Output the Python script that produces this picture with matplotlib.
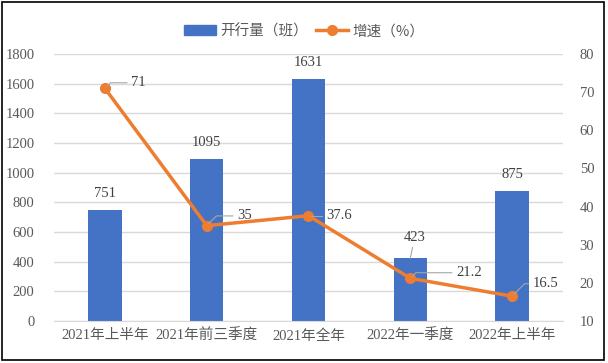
import numpy as np
import matplotlib.pyplot as plt
import matplotlib.patches as mpatches
from matplotlib.lines import Line2D

plt.rcParams['font.family'] = ['Liberation Serif', 'Noto Sans CJK SC']

categories = ["2021年上半年", "2021年前三季度", "2021年全年", "2022年一季度", "2022年上半年"]
trains = [751, 1095, 1631, 423, 875]
growth = [71, 35, 37.6, 21.2, 16.5]

bar_color = "#4472C4"
line_color = "#ED7D31"
txt = "#595959"

fig = plt.figure(figsize=(6.08, 3.63), dpi=100)
ax = fig.add_axes([54 / 608, 42 / 363, 509 / 608, 267 / 363])
ax2 = ax.twinx()

x = np.arange(len(categories))
ax.bar(x, trains, width=0.33, color=bar_color, zorder=2)
ax.set_ylim(0, 1800)
ax.set_yticks(range(0, 1801, 200))
ax.set_xlim(-0.5, len(categories) - 0.5)
ax.set_xticks(x)
ax.set_xticklabels(categories, family=['Liberation Serif', 'Noto Sans CJK SC'])
ax.grid(axis='y', color='#D9D9D9', linewidth=1, zorder=0)
ax.set_axisbelow(True)

ax2.plot(x, growth, color=line_color, linewidth=2.5, marker='o', markersize=7, zorder=3)
ax2.set_ylim(10, 80)
ax2.set_yticks(range(10, 81, 10))

for a in (ax, ax2):
    for s in a.spines.values():
        s.set_visible(False)
    a.tick_params(length=0, colors=txt, labelsize=10.5)
ax.spines['bottom'].set_visible(True)
ax.spines['bottom'].set_color('#D9D9D9')
ax.tick_params(axis='y', pad=14)
ax.tick_params(axis='x', pad=6)
ax2.tick_params(axis='y', pad=12)

# bar labels
for i, v in enumerate(trains):
    if i == 3:
        ax.annotate(str(v), xy=(i, v), xytext=(3, 10), textcoords='offset points',
                    ha='center', va='bottom', fontsize=10.5, color='#404040',
                    arrowprops=dict(arrowstyle='-', color='#A6A6A6', lw=0.8,
                                    shrinkA=0, shrinkB=0))
    else:
        ax.annotate(str(v), xy=(i, v), xytext=(0, 7), textcoords='offset points',
                    ha='center', va='bottom', fontsize=10.5, color='#404040')

# line labels with leader lines
offsets = [(19, 4), (22, 7), (13, 0), (33, 4), (15, 9)]
for i, v in enumerate(growth):
    ax2.annotate(f"{v:g}", xy=(i, v), xytext=offsets[i], textcoords='offset points',
                 ha='left', va='center', fontsize=10.5, color='#404040',
                 arrowprops=dict(arrowstyle='-', color='#A6A6A6', lw=0.8,
                                 shrinkA=1, shrinkB=2,
                                 connectionstyle='angle,angleA=0,angleB=45,rad=0'))

handles = [mpatches.Patch(color=bar_color),
           Line2D([0], [0], color=line_color, linewidth=2.5, marker='o', markersize=7)]
fig.legend(handles, ["开行量（班）", "增速（%）"], loc='center',
           bbox_to_anchor=(0.5, 1 - 31 / 363), bbox_transform=fig.transFigure,
           ncol=2, frameon=False, handlelength=2.2, columnspacing=0.5,
           handletextpad=0.3, prop={'family': ['Noto Sans CJK SC'], 'size': 10.5},
           labelcolor=txt)

fig.patches.append(mpatches.Rectangle((2 / 608, 3 / 363), 602 / 608, 358 / 363,
                                      transform=fig.transFigure, fill=False,
                                      edgecolor='black', linewidth=1.2))

fig.savefig("out.png", dpi=100)
